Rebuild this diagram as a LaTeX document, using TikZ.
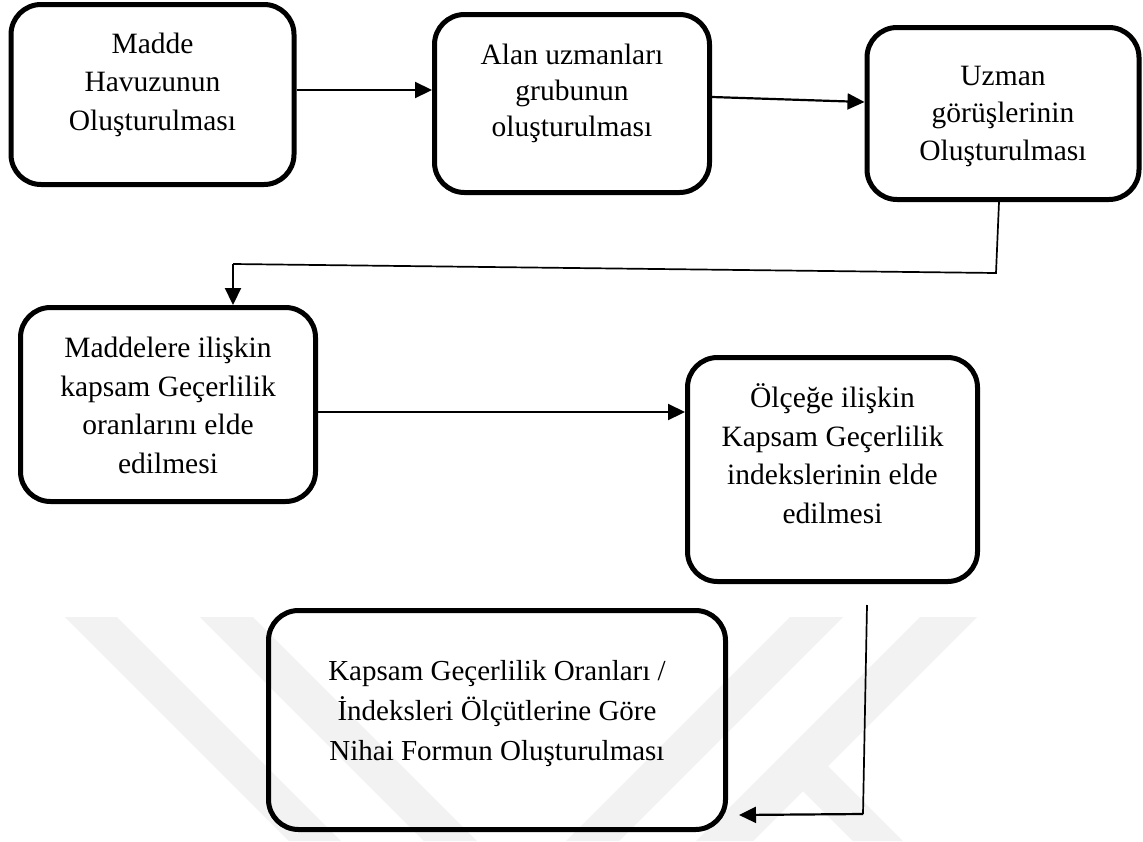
\documentclass[tikz,border=0pt]{standalone}
\usepackage{fontspec}
\setmainfont{Liberation Serif}
\usetikzlibrary{arrows.meta}
\begin{document}
\begin{tikzpicture}[x=1pt,y=-1pt,
  box/.style={draw=black, line width=5pt, rounded corners=30pt, inner sep=0pt},
  lbl/.style={anchor=base, align=center, inner sep=0pt, font=\fontsize{29.5}{38.5}\selectfont},
  arr/.style={line width=2.2pt, -{Triangle[length=17pt,width=16pt]}},
  thinline/.style={line width=1.7pt},
  wm/.style={fill=black!5, draw=none}
]
\useasboundingbox (0,0) rectangle (1143,841);
\fill[white] (0,0) rectangle (1143,841);
% watermark (faint background bands)
\fill[wm] (65,617) -- (117,617) -- (341,841) -- (289,841) -- cycle;
\fill[wm] (200,617) -- (253,617) -- (477,841) -- (424,841) -- cycle;
\fill[wm] (790,617) -- (843,617) -- (619,841) -- (566,841) -- cycle;
\fill[wm] (920,617) -- (977,617) -- (753,841) -- (696,841) -- cycle;
\fill[wm] (800,788) -- (826,764) -- (903,841) -- (853,841) -- cycle;

% boxes
\node[box, minimum width=283pt, minimum height=180pt] (A) at (152.5,94.5) {};
\node[box, minimum width=275pt, minimum height=178pt] (B) at (572,103.5) {};
\node[box, minimum width=272pt, minimum height=172pt] (C) at (1003,113.5) {};
\node[box, minimum width=295pt, minimum height=194pt] (D) at (168,404.5) {};
\node[box, minimum width=290pt, minimum height=224pt] (E) at (832.5,469.5) {};
\node[box, minimum width=457pt, minimum height=219pt] (F) at (497,720) {};

% texts (anchor base = baseline of last line)
\node[lbl] (tA) at (152.5,130) {Madde\\Havuzunun\\Oluşturulması};
\node[lbl, font=\fontsize{29.5}{36}\selectfont] (tB) at (572,136) {Alan uzmanları\\grubunun\\oluşturulması};
\node[lbl, font=\fontsize{29.5}{37.5}\selectfont] (tC) at (1003,160) {Uzman\\görüşlerinin\\Oluşturulması};
\node[lbl] (tD) at (168,473) {Maddelere ilişkin\\kapsam Geçerlilik\\oranlarını elde\\edilmesi};
\node[lbl] (tE) at (832.5,523) {Ölçeğe ilişkin\\Kapsam Geçerlilik\\indekslerinin elde\\edilmesi};
\node[lbl, font=\fontsize{29}{40}\selectfont] (tF) at (497,760) {Kapsam Geçerlilik Oranları /\\İndeksleri Ölçütlerine Göre\\Nihai Formun Oluşturulması};

% connectors
\coordinate (c1) at (996,273);
\coordinate (c2) at (233,264);
\coordinate (e1) at (867,605);
\coordinate (e2) at (863,814);

\draw[arr] ([yshift=4.5pt]A.east) -- ([yshift=13.5pt]B.west);
\draw[arr] ([yshift=6.5pt]B.east) -- ([yshift=11.5pt]C.west);
\draw[thinline] ([xshift=-4pt]C.south) -- (c1) -- (c2);
\draw[arr] (c2) -- ([xshift=65pt]D.north);
\draw[arr] ([yshift=-7.5pt]D.east) -- ([yshift=57.5pt]E.west);
\draw[thinline] (e1) -- (e2);
\draw[arr] (e2) -- ([xshift=11pt,yshift=-95pt]F.east);
\end{tikzpicture}
\end{document}
